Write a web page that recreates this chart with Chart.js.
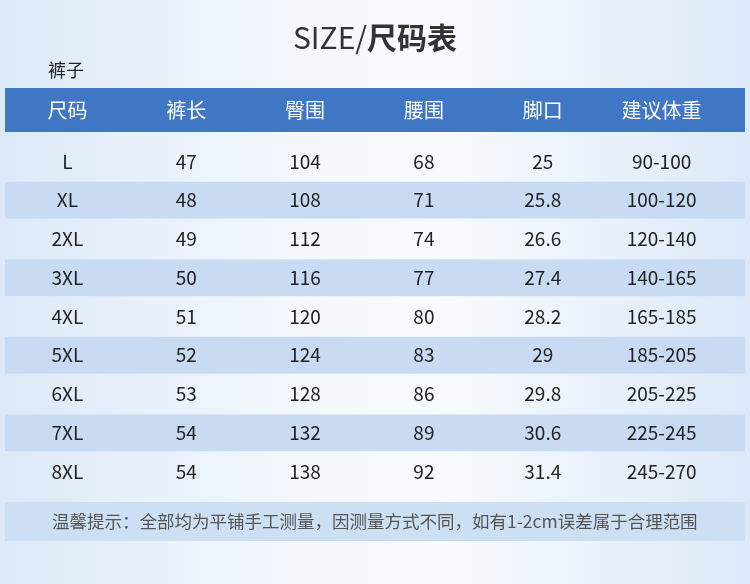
<!DOCTYPE html>
<html><head><meta charset="utf-8">
<script src="https://cdn.jsdelivr.net/npm/chart.js@4"></script>
<style>html,body{margin:0;padding:0;}body{width:750px;height:584px;background:linear-gradient(90deg,#dde9f8 0%,#f4f8fd 40%,#f7fafe 60%,#dde9f8 100%);}#c{display:block;}</style>
</head><body>
<div style="width:750px;height:584px"><canvas id="c"></canvas></div>
<script>
const headers = ['尺码','裤长','臀围','腰围','脚口','建议体重'];
const sizes = ['L','XL','2XL','3XL','4XL','5XL','6XL','7XL','8XL'];
const length = [47,48,49,50,51,52,53,54,54];
const hip = [104,108,112,116,120,124,128,132,138];
const waist = [68,71,74,77,80,83,86,89,92];
const hem = ['25','25.8','26.6','27.4','28.2','29','29.8','30.6','31.4'];
const weight = ['90-100','100-120','120-140','140-165','165-185','185-205','205-225','225-245','245-270'];
const title = 'SIZE/尺码表';
const subtitle = '裤子';
const note = '温馨提示：全部均为平铺手工测量，因测量方式不同，如有1-2cm误差属于合理范围';
const F = '"Noto Sans CJK SC","Noto Sans",sans-serif';

const tablePlugin = {
  id:'table',
  afterDraw(chart){
    const ctx = chart.ctx, x = chart.scales.x, y = chart.scales.y;
    const rowH = y.getPixelForValue(1) - y.getPixelForValue(0);
    const L = 5, R = chart.width - 5;
    ctx.save();
    ctx.textAlign='center'; ctx.textBaseline='middle';
    ctx.fillStyle='#333';
    ctx.font='30px '+F;
    const t1='SIZE/', t2='尺码表';
    const w1=ctx.measureText(t1).width;
    ctx.font='bold 30px '+F;
    const w2=ctx.measureText(t2).width;
    const sx=chart.width/2-(w1+w2)/2;
    ctx.textAlign='left';
    ctx.font='30px '+F; ctx.fillText(t1,sx,38);
    ctx.font='bold 30px '+F; ctx.fillText(t2,sx+w1,38);
    ctx.font='18px '+F; ctx.fillStyle='#222'; ctx.fillText(subtitle,48,70);
    ctx.textAlign='center';
    const hTop = 88, hBot = 132;
    ctx.fillStyle='#3f77c5'; ctx.fillRect(L,hTop,R-L,hBot-hTop);
    ctx.fillStyle='#fff'; ctx.font='20px '+F;
    headers.forEach((h,i)=>ctx.fillText(h,x.getPixelForValue(i),(hTop+hBot)/2));
    sizes.forEach((s,i)=>{
      if(i%2===1){
        const cy=y.getPixelForValue(i);
        ctx.fillStyle='#c8dbf2';
        ctx.fillRect(L,cy-rowH/2+1,R-L,rowH-2);
      }
    });
    ctx.fillStyle='#222'; ctx.font='19px '+F;
    const cols=[sizes,length,hip,waist,hem,weight];
    sizes.forEach((s,i)=>{
      const cy=y.getPixelForValue(i);
      cols.forEach((c,j)=>ctx.fillText(String(c[i]),x.getPixelForValue(j),cy));
    });
    const fTop=502,fBot=541;
    ctx.fillStyle='#cddff3'; ctx.fillRect(L,fTop,R-L,fBot-fTop);
    ctx.fillStyle='#555'; ctx.font='17.5px '+F; ctx.textAlign='left';
    ctx.fillText(note,52,(fTop+fBot)/2);
    ctx.restore();
  }
};

new Chart(document.getElementById('c'),{
  type:'bar',
  data:{labels:headers,datasets:[]},
  options:{
    responsive:true, maintainAspectRatio:false, animation:false,
    layout:{padding:{left:8,right:29,top:142,bottom:93}},
    plugins:{legend:{display:false},tooltip:{enabled:false}},
    scales:{
      x:{type:'category',labels:headers,display:false,offset:true},
      y:{type:'category',labels:sizes,display:false,offset:true}
    }
  },
  plugins:[tablePlugin]
});
</script>
</body></html>
